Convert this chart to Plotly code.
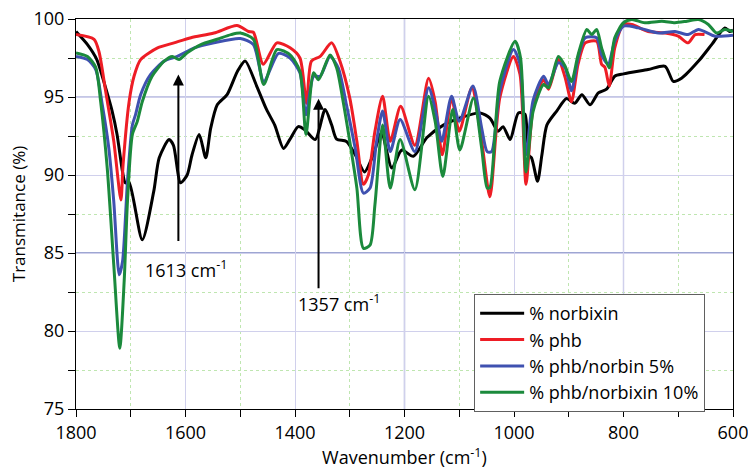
import plotly.graph_objects as go

# ---------------- data ----------------
wn_norbixin = [1800, 1779, 1762, 1746, 1734, 1725, 1715, 1710, 1703, 1679, 1658, 1648, 1630, 1622, 1609,
               1597, 1588, 1575, 1563, 1554, 1542, 1524, 1505, 1491, 1470, 1452, 1437, 1421, 1409, 1394,
               1382, 1363, 1345, 1333, 1324, 1306, 1290, 1273, 1257, 1242, 1223, 1205, 1184, 1159, 1129,
               1099, 1062, 1044, 1029, 1020, 1007, 992, 980, 974, 968, 957, 949, 940, 922, 904, 889, 876,
               861, 846, 831, 816, 800, 755, 724, 709, 694, 663, 639, 615, 606, 600]
t_norbixin = [99.2, 98.36, 97.4, 95.6, 94.1, 92.6, 90.2, 89.5, 89.5, 85.85, 88.95, 91.1, 92.27, 91.9, 89.5,
              90.0, 91.3, 92.6, 91.1, 93.0, 94.5, 95.15, 96.65, 97.3, 95.7, 94.2, 93.2, 91.7, 92.3, 93.1,
              92.9, 92.27, 94.2, 93.2, 92.3, 92.15, 91.3, 90.2, 91.3, 92.7, 90.45, 91.6, 91.2, 92.4, 93.2,
              93.65, 93.98, 93.65, 92.8, 93.1, 92.27, 93.98, 93.9, 91.3, 91.1, 89.6, 91.3, 93.2, 94.1, 94.9,
              94.6, 95.15, 94.5, 95.26, 95.5, 96.33, 96.48, 96.76, 96.97, 96.0, 96.2, 97.3, 98.36, 99.43,
              99.2, 99.3]

wn_phb = [1800, 1767, 1758, 1746, 1731, 1718, 1714, 1703, 1694, 1682, 1651, 1621, 1590, 1548, 1506, 1485,
          1476, 1458, 1433, 1409, 1391, 1379, 1370, 1354, 1333, 1318, 1300, 1287, 1275, 1266, 1254, 1240,
          1226, 1207, 1181, 1156, 1144, 1131, 1114, 1100, 1077, 1059, 1044, 1026, 1001, 989, 978, 965, 946,
          937, 919, 907, 895, 883, 870, 849, 840, 834, 826, 816, 800, 785, 755, 724, 700, 682, 669, 652]
t_phb = [99.0, 98.7, 97.9, 95.4, 92.16, 88.4, 90.66, 94.7, 96.33, 97.4, 98.15, 98.47, 98.8, 99.1, 99.58, 99.2,
         99.15, 97.1, 98.47, 98.15, 97.5, 94.6, 97.3, 97.6, 98.47, 97.3, 94.94, 92.16, 89.4, 90.0, 92.8, 95.05,
         92.16, 94.4, 91.9, 96.2, 94.7, 91.3, 94.94, 92.8, 95.6, 92.16, 88.6, 94.94, 97.6, 96.44, 89.4, 94.3,
         96.1, 95.5, 97.4, 96.3, 94.7, 97.1, 98.47, 98.57, 97.1, 96.9, 95.7, 98.15, 99.65, 99.65, 99.2, 99.1,
         98.9, 98.47, 99.0, 99.0]

wn_phb5 = [1800, 1779, 1764, 1752, 1740, 1731, 1721, 1715, 1706, 1697, 1691, 1682, 1664, 1639, 1615, 1584,
           1548, 1500, 1476, 1457, 1430, 1409, 1391, 1380, 1366, 1354, 1336, 1321, 1306, 1290, 1275, 1263,
           1251, 1240, 1226, 1208, 1181, 1156, 1142, 1132, 1114, 1100, 1075, 1059, 1049, 1041, 1026, 1001,
           989, 978, 965, 946, 937, 919, 907, 895, 883, 870, 849, 840, 828, 816, 800, 773, 736, 706, 682, 663,
           633, 600]
t_phb5 = [97.6, 97.4, 96.76, 94.5, 91.7, 88.3, 83.6, 84.45, 89.6, 93.2, 93.9, 95.15, 96.44, 97.3, 97.6, 98.15,
          98.47, 98.75, 98.36, 96.0, 97.8, 97.5, 96.55, 93.87, 96.33, 96.33, 97.6, 96.87, 94.5, 91.7, 88.84,
          89.16, 92.16, 94.1, 91.5, 93.55, 91.5, 95.6, 93.87, 92.16, 95.05, 93.44, 95.7, 93.0, 91.5, 91.5,
          95.4, 98.04, 97.1, 91.3, 94.8, 96.33, 95.8, 97.2, 96.9, 95.4, 97.5, 98.8, 98.8, 97.7, 97.1, 98.57,
          99.54, 99.43, 99.1, 99.2, 99.0, 99.33, 98.9, 98.96]

wn_phb10 = [1800, 1779, 1764, 1755, 1743, 1731, 1720, 1712, 1706, 1697, 1688, 1679, 1661, 1639, 1624, 1612,
            1597, 1572, 1542, 1517, 1500, 1476, 1457, 1433, 1409, 1391, 1380, 1366, 1357, 1336, 1324, 1312,
            1300, 1287, 1275, 1263, 1254, 1240, 1226, 1208, 1181, 1156, 1144, 1130, 1112, 1099, 1074, 1059,
            1049, 1044, 1026, 998, 988, 978, 965, 946, 937, 919, 907, 895, 883, 867, 858, 849, 840, 826, 816,
            800, 785, 761, 730, 706, 684, 663, 645, 630, 615, 600]
t_phb10 = [97.83, 97.6, 96.9, 94.7, 90.45, 84.24, 78.9, 83.2, 88.3, 92.6, 93.44, 94.7, 96.33, 97.3, 97.6, 97.4,
           97.83, 98.36, 98.7, 99.0, 99.1, 98.7, 95.8, 98.04, 97.7, 96.65, 92.6, 96.55, 96.1, 97.7, 96.87, 94.7,
           92.16, 89.16, 85.3, 85.5, 88.1, 93.2, 89.16, 92.27, 89.06, 95.05, 93.44, 89.9, 94.2, 91.6, 94.94,
           91.7, 89.16, 89.2, 96.0, 98.57, 97.5, 90.2, 94.1, 95.8, 95.6, 97.6, 97.0, 96.0, 97.7, 99.33, 99.0,
           99.33, 98.15, 96.87, 98.8, 99.76, 99.97, 99.76, 99.86, 99.76, 99.86, 99.97, 99.65, 99.1, 99.33, 99.2]

series_names = ["% norbixin", "% phb", "% phb/norbin 5%", "% phb/norbixin 10%"]
series_colors = ["#000000", "#ee1d25", "#3f51b0", "#1b8a3c"]

arrow_wn = [1613, 1357]
arrow_from = [85.67, 82.64]
arrow_to = [96.44, 94.88]
arrow_labels = ["1613 cm<sup>-1</sup>", "1357 cm<sup>-1</sup>"]
label_pos = [(1600, 83.95), (1319, 81.8)]

FONT = "Open Sans"

fig = go.Figure()
for wn, t, name, col in zip([wn_norbixin, wn_phb, wn_phb5, wn_phb10],
                            [t_norbixin, t_phb, t_phb5, t_phb10],
                            series_names, series_colors):
    fig.add_trace(go.Scatter(x=wn, y=t, mode="lines", name=name,
                             line=dict(color=col, width=3, shape="spline", smoothing=0.7)))

# darker major gridlines (as in the reference)
for xv, c in [(1200, "#3d4fa6"), (800, "#8a90cc")]:
    fig.add_shape(type="line", xref="x", yref="paper", x0=xv, x1=xv, y0=0, y1=1,
                  line=dict(color=c, width=1.2), layer="below")
for yv, c in [(95, "#8a90cc"), (85, "#3d4fa6")]:
    fig.add_shape(type="line", xref="paper", yref="y", x0=0, x1=1, y0=yv, y1=yv,
                  line=dict(color=c, width=1.2), layer="below")

for wn, y0, y1 in zip(arrow_wn, arrow_from, arrow_to):
    fig.add_annotation(x=wn, y=y1, ax=wn, ay=y0, xref="x", yref="y", axref="x", ayref="y",
                       showarrow=True, arrowhead=2, arrowsize=1.1, arrowwidth=2,
                       arrowcolor="#000000", text="")
for (lx, ly), txt in zip(label_pos, arrow_labels):
    fig.add_annotation(x=lx, y=ly, xref="x", yref="y", text=txt, showarrow=False,
                       font=dict(family=FONT, size=18, color="#000000"))

fig.update_layout(
    width=748, height=472,
    margin=dict(l=76, r=15, t=19, b=63, autoexpand=False),
    paper_bgcolor="white", plot_bgcolor="white",
    font=dict(family=FONT, size=17, color="#000000"),
    legend=dict(x=0.606, y=0.295, xanchor="left", yanchor="top",
                bgcolor="white", bordercolor="#606060", borderwidth=1,
                font=dict(family=FONT, size=18), tracegroupgap=0, itemwidth=44),
    showlegend=True,
)

fig.update_xaxes(
    range=[1800, 600], tickvals=[1800, 1600, 1400, 1200, 1000, 800, 600],
    showline=True, linecolor="#000000", linewidth=1.2, mirror=True,
    ticks="outside", ticklen=7, tickcolor="#000000", automargin=False,
    ticklabeloverflow="allow",
    showgrid=True, gridcolor="#d0d0ec", gridwidth=1,
    minor=dict(tickvals=[1700, 1500, 1300, 1100, 900, 700], ticks="outside", ticklen=7,
               tickcolor="#000000", showgrid=True, gridcolor="#bfe6b0", griddash="dot", gridwidth=1),
    tickfont=dict(family=FONT, size=18),
    title=dict(text="Wavenumber (cm<sup>-1</sup>)", font=dict(family=FONT, size=18), standoff=6),
    zeroline=False,
)
fig.update_yaxes(
    range=[75, 100], tickvals=[75, 80, 85, 90, 95, 100],
    showline=True, linecolor="#000000", linewidth=1.2, mirror=True,
    ticks="outside", ticklen=7, tickcolor="#000000", automargin=False,
    ticklabeloverflow="allow",
    showgrid=True, gridcolor="#d0d0ec", gridwidth=1,
    minor=dict(tickvals=[77.5, 82.5, 87.5, 92.5, 97.5], ticks="outside", ticklen=7,
               tickcolor="#000000", showgrid=True, gridcolor="#bfe6b0", griddash="dot", gridwidth=1),
    tickfont=dict(family=FONT, size=18),
    title=dict(text="Transmitance (%)", font=dict(family=FONT, size=17), standoff=3),
    zeroline=False,
)

fig.write_html("out.html")
